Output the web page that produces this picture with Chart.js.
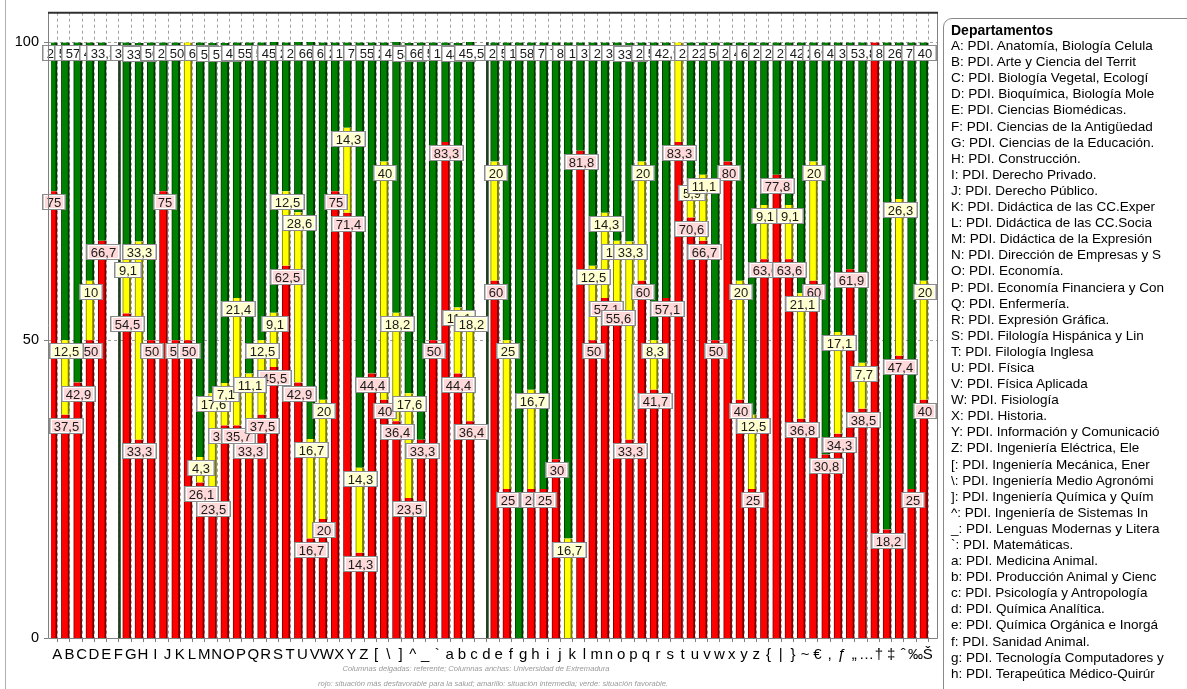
<!DOCTYPE html>
<html>
<head>
<meta charset="utf-8">
<script src="https://cdn.jsdelivr.net/npm/chart.js@4.4.1/dist/chart.umd.min.js"></script>
<style>
  body { margin: 0; background: #fff; font-family: Arial, "Liberation Sans", sans-serif; }
  #wrap { position: relative; width: 1187px; height: 689px; overflow: hidden; }
  #frame { position: absolute; left: 5px; top: 0; width: 1px; height: 689px; background: #b0b0b0; }
  #legend { position: absolute; left: 943px; top: 18px; width: 260px; height: 700px; box-sizing: border-box;
            border: 1px solid #8a8a8a; border-radius: 9px; padding: 3px 0 0 7px;
            font-size: 13.5px; line-height: 16.1px; color: #000; white-space: nowrap; }
  #legend .ttl { font-weight: bold; font-size: 14px; }
</style>
</head>
<body>
<div id="wrap">
  <canvas id="chart" width="1187" height="689"></canvas>
  <div id="frame"></div>
  <div id="legend"></div>
</div>
<script>
// bar codes along the x axis
const xLabels = ['A','B','C','D','E','F','G','H','I','J','K','L','M','N','O','P','Q','R','S','T','U','V','W','X','Y','Z',
  '[','\\',']','^','_','`','a','b','c','d','e','f','g','h','i','j','k','l','m','n','o','p','q','r','s','t','u','v','w','x',
  'y','z','{','|','}','~','€','‚','ƒ','„','…','†','‡','ˆ','‰','Š'];

// % rojo (desfavorable), amarillo (intermedia), verde (favorable)
const redVals = [75, 37.5, 42.9, 50, 66.7, null, 54.5, 33.3, 50, 75, 50, 50,
  26.1, 23.5, 35.7, 35.7, 33.3, 37.5, 45.5, 62.5, 42.9, 16.7, 20, 75,
  71.4, 14.3, 44.4, 40, 36.4, 23.5, 33.3, 50, 83.3, 44.4, 36.4, null,
  60, 25, 0, 25, 25, 30, 0, 81.8, 50, 57.1, 55.6, 33.3,
  60, 41.7, 57.1, 83.3, 70.6, 66.7, 50, 80, 40, 25, 63.6, 77.8,
  63.6, 36.8, 60, 30.8, 34.3, 61.9, 38.5, 100, 18.2, 47.4, 25, 40];
const yellowVals = [0, 12.5, 0, 10, 0, null, 9.1, 33.3, 0, 0, 0, 50,
  4.3, 17.6, 7.1, 21.4, 11.1, 12.5, 9.1, 12.5, 28.6, 16.7, 20, 0,
  14.3, 14.3, 0, 40, 18.2, 17.6, 0, 0, 0, 11.1, 18.2, null,
  20, 25, 0, 16.7, 0, 0, 16.7, 0, 12.5, 14.3, 11.1, 33.3,
  20, 8.3, 0, 16.7, 5.9, 11.1, 0, 0, 20, 12.5, 9.1, 0,
  9.1, 21.1, 20, 0, 17.1, 0, 7.7, 0, 0, 26.3, 0, 20];
const greenVals = [25, 50, 57.1, 40, 33.3, null, 36.4, 33.3, 50, 25, 50, 0,
  69.6, 58.8, 57.1, 42.9, 55.6, 50, 45.5, 25, 28.6, 66.7, 60, 25,
  14.3, 71.4, 55.6, 20, 45.5, 58.8, 66.7, 50, 16.7, 44.4, 45.5, null,
  20, 50, 100, 58.3, 75, 70, 83.3, 18.2, 37.5, 28.6, 33.3, 33.3,
  20, 50, 42.9, 0, 23.5, 22.2, 50, 20, 40, 62.5, 27.3, 22.2,
  27.3, 42.1, 20, 69.2, 48.6, 38.1, 53.8, 0, 81.8, 26.3, 75, 40];
// columnas delgadas sin columna ancha
const thinVals = [null, null, null, null, null, 100, null, null, null, null, null, null,
  null, null, null, null, null, null, null, null, null, null, null, null,
  null, null, null, null, null, null, null, null, null, null, null, 100,
  null, null, null, null, null, null, null, null, null, null, null, null,
  null, null, null, null, null, null, null, null, null, null, null, null,
  null, null, null, null, null, null, null, null, null, null, null, null];

const legendTitle = 'Departamentos';
const departments = [
  'A: PDI. Anatomía, Biología Celula', 'B: PDI. Arte y Ciencia del Territ', 'C: PDI. Biología Vegetal, Ecologí',
  'D: PDI. Bioquímica, Biología Mole', 'E: PDI. Ciencias Biomédicas.', 'F: PDI. Ciencias de la Antigüedad',
  'G: PDI. Ciencias de la Educación.', 'H: PDI. Construcción.', 'I: PDI. Derecho Privado.', 'J: PDI. Derecho Público.',
  'K: PDI. Didáctica de las CC.Exper', 'L: PDI. Didáctica de las CC.Socia', 'M: PDI. Didáctica de la Expresión',
  'N: PDI. Dirección de Empresas y S', 'O: PDI. Economía.', 'P: PDI. Economía Financiera y Con', 'Q: PDI. Enfermería.',
  'R: PDI. Expresión Gráfica.', 'S: PDI. Filología Hispánica y Lin', 'T: PDI. Filología Inglesa', 'U: PDI. Física',
  'V: PDI. Física Aplicada', 'W: PDI. Fisiología', 'X: PDI. Historia.', 'Y: PDI. Información y Comunicació',
  'Z: PDI. Ingeniería Eléctrica, Ele', '[: PDI. Ingeniería Mecánica, Ener', '\\: PDI. Ingeniería Medio Agronómi',
  ']: PDI. Ingeniería Química y Quím', '^: PDI. Ingeniería de Sistemas In', '_: PDI. Lenguas Modernas y Litera',
  '`: PDI. Matemáticas.', 'a: PDI. Medicina Animal.', 'b: PDI. Producción Animal y Cienc',
  'c: PDI. Psicología y Antropología', 'd: PDI. Química Analítica.', 'e: PDI. Química Orgánica e Inorgá',
  'f: PDI. Sanidad Animal.', 'g: PDI. Tecnología Computadores y', 'h: PDI. Terapeútica Médico-Quirúr'];

const footLines = ['Columnas delgadas: referente; Columnas anchas: Universidad de Extremadura',
  'rojo: situación más desfavorable para la salud; amarillo: situación intermedia; verde: situación favorable.'];

// legend box
const leg = document.getElementById('legend');
leg.innerHTML = '<div class="ttl">' + legendTitle + '</div>' +
  departments.map(d => '<div>' + d.replace(/&/g, '&amp;').replace(/</g, '&lt;') + '</div>').join('');

const fmt = v => String(v).replace('.', ',');
const tints = ['rgba(255,120,120,0.28)', 'rgba(255,255,120,0.35)', 'rgba(255,255,255,0)'];

// value boxes on top of each segment
const segLabels = {
  id: 'segLabels',
  afterDatasetsDraw(chart) {
    const ctx = chart.ctx;
    ctx.save();
    ctx.font = '13px Arial, "Liberation Sans", sans-serif';
    ctx.textAlign = 'center';
    ctx.textBaseline = 'middle';
    [0, 1, 2].forEach(di => {
      const meta = chart.getDatasetMeta(di);
      const data = chart.data.datasets[di].data;
      meta.data.forEach((el, i) => {
        const v = data[i];
        if (v == null || v === 0) return;
        const txt = fmt(v);
        const w = Math.round(ctx.measureText(txt).width) + 10;
        const h = 16;
        const x0 = Math.round(el.x + 1 - w / 2), y0 = Math.round(el.y + 3);
        ctx.fillStyle = '#ffffff';
        ctx.fillRect(x0, y0, w, h);
        ctx.fillStyle = tints[di];
        ctx.fillRect(x0 + 3, y0 + 2, w - 6, h - 4);
        ctx.fillStyle = '#c4c4c4';
        ctx.fillRect(x0, y0, 2, h);
        ctx.fillRect(x0 + w - 2, y0, 2, h);
        ctx.strokeStyle = '#8c8c8c';
        ctx.lineWidth = 1;
        ctx.strokeRect(x0 + 0.5, y0 + 0.5, w - 1, h - 1);
        ctx.fillStyle = '#1a1a1a';
        ctx.fillText(txt, x0 + w / 2, y0 + h / 2 + 1);
      });
    });
    ctx.restore();
  }
};

// dashed grid, plot frame and footnotes
const plotFrame = {
  id: 'plotFrame',
  beforeDatasetsDraw(chart) {
    const { ctx, chartArea: a, scales } = chart;
    ctx.save();
    ctx.strokeStyle = '#a0a0a0';
    ctx.lineWidth = 1;
    ctx.setLineDash([3, 3]);
    scales.x.ticks.forEach((t, i) => {
      const x = Math.round(scales.x.getPixelForTick(i)) + 0.5;
      ctx.beginPath(); ctx.moveTo(x, a.top); ctx.lineTo(x, a.bottom); ctx.stroke();
    });
    [50, 100].forEach(v => {
      const y = Math.round(scales.y.getPixelForValue(v)) + 0.5;
      ctx.beginPath(); ctx.moveTo(48, y); ctx.lineTo(937, y); ctx.stroke();
    });
    ctx.restore();
  },
  afterDraw(chart) {
    const { ctx, chartArea: a, scales } = chart;
    ctx.save();
    ctx.strokeStyle = '#808080';
    ctx.lineWidth = 1;
    ctx.beginPath();
    ctx.moveTo(48.5, a.top); ctx.lineTo(48.5, a.bottom + 0.5); ctx.lineTo(937.5, a.bottom + 0.5); ctx.lineTo(937.5, a.top);
    ctx.stroke();
    // small ticks below axis
    scales.x.ticks.forEach((t, i) => {
      const x = Math.round(scales.x.getPixelForTick(i)) + 0.5;
      ctx.beginPath(); ctx.moveTo(x, a.bottom); ctx.lineTo(x, a.bottom + 4); ctx.stroke();
    });
    [0, 50, 100].forEach(v => {
      const y = Math.round(scales.y.getPixelForValue(v)) + 0.5;
      ctx.beginPath(); ctx.moveTo(44, y); ctx.lineTo(48, y); ctx.stroke();
    });
    ctx.strokeStyle = '#303030';
    ctx.lineWidth = 2;
    ctx.beginPath(); ctx.moveTo(48, a.top); ctx.lineTo(938, a.top); ctx.stroke();
    ctx.fillStyle = '#9a9a9a';
    ctx.font = 'italic 7.6px Arial, "Liberation Sans", sans-serif';
    ctx.textAlign = 'center';
    ctx.textBaseline = 'middle';
    ctx.fillText(footLines[0], 476, 669);
    ctx.fillText(footLines[1], 493, 684);
    ctx.restore();
  }
};

const segColors = ['#ff0000', '#ffff00', '#008000'];
const segBorders = ['#7a0000', '#7a7a00', '#003800'];
const segNames = ['rojo', 'amarillo', 'verde'];
const segData = [redVals, yellowVals, greenVals];

const datasets = segData.map((d, k) => ({
  label: segNames[k],
  data: d,
  backgroundColor: segColors[k],
  borderColor: segBorders[k],
  borderWidth: { left: 1, right: 2, top: 0, bottom: 0 },
  borderSkipped: false,
  barThickness: 8,
  stack: 'uex'
}));
datasets.push({
  label: 'referente',
  data: thinVals,
  backgroundColor: '#1f3f1f',
  barThickness: 2,
  xAxisID: 'x2',
  stack: 'ref'
});

new Chart(document.getElementById('chart'), {
  type: 'bar',
  data: { labels: xLabels, datasets: datasets },
  options: {
    responsive: false,
    animation: false,
    devicePixelRatio: 1,
    layout: { padding: { top: 9, right: 253, left: 0, bottom: 0 } },
    plugins: { legend: { display: false }, tooltip: { enabled: false } },
    scales: {
      x: {
        stacked: true,
        offset: true,
        grid: { display: false },
        border: { display: false },
        ticks: {
          autoSkip: false, maxRotation: 0, minRotation: 0, padding: 0,
          color: '#000', font: { size: 15, family: 'Arial, "Liberation Sans", sans-serif' }
        },
        afterFit: s => { s.height = 51; }
      },
      x2: { type: 'category', labels: xLabels, display: false, offset: true, stacked: true },
      y: {
        stacked: true,
        min: 0,
        max: 105,
        grid: { display: false },
        border: { display: false },
        afterBuildTicks: s => { s.ticks = [0, 50, 100].map(v => ({ value: v })); },
        ticks: { color: '#000', padding: 4, font: { size: 14.5, family: 'Arial, "Liberation Sans", sans-serif' } },
        afterFit: s => { s.width = 51; }
      }
    }
  },
  plugins: [plotFrame, segLabels]
});
</script>
</body>
</html>
